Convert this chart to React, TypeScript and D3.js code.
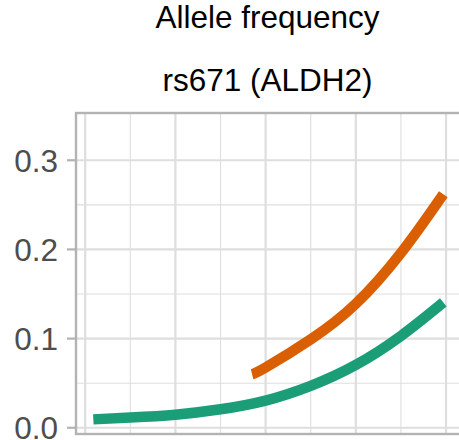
import React, { useEffect, useRef } from "react";
import * as d3 from "d3";

// x positions in arbitrary units (major grid every 1, minor every 0.5)
const greenX = [0.09, 0.5, 1, 1.5, 2, 2.5, 3, 3.5, 3.97];
const greenY = [0.0094, 0.0115, 0.0147, 0.0207, 0.0305, 0.047, 0.0705, 0.103, 0.1406];
const orangeX = [1.85, 2, 2.5, 3, 3.5, 3.97];
const orangeY = [0.06, 0.0675, 0.099, 0.139, 0.196, 0.262];

const yTicks = [0.0, 0.1, 0.2, 0.3];
const yMinor = [0.05, 0.15, 0.25];
const xMajor = [0, 1, 2, 3, 4];
const xMinor = [0.5, 1.5, 2.5, 3.5];

const seriesColors = ["#1B9E77", "#D95F02"];
const titleLines = ["Allele frequency", "rs671 (ALDH2)"];

export default function App() {
  const ref = useRef<SVGSVGElement | null>(null);

  useEffect(() => {
    const width = 459;
    const height = 440;
    const panel = { left: 76, right: 461, top: 113, bottom: 434 };

    const svg = d3.select(ref.current);
    svg.selectAll("*").remove();

    const x = d3.scaleLinear().domain([-0.102, 4.166]).range([panel.left, panel.right]);
    const y = d3.scaleLinear().domain([-0.007, 0.353]).range([panel.bottom, panel.top]);

    svg.attr("width", width).attr("height", height);

    const font = "'Liberation Sans', Arial, sans-serif";

    // titles
    svg
      .selectAll("text.title")
      .data(titleLines)
      .join("text")
      .attr("class", "title")
      .attr("x", (panel.left + panel.right) / 2 - 1)
      .attr("y", (_, i) => 28 + i * 63)
      .attr("text-anchor", "middle")
      .attr("fill", "#000")
      .style("font-family", font)
      .style("font-size", "31.5px")
      .text((d) => d);

    const g = svg.append("g");
    g.append("rect")
      .attr("x", panel.left)
      .attr("y", panel.top)
      .attr("width", panel.right - panel.left)
      .attr("height", panel.bottom - panel.top)
      .attr("fill", "#fff");

    // minor grid
    g.selectAll("line.yminor")
      .data(yMinor)
      .join("line")
      .attr("x1", panel.left)
      .attr("x2", panel.right)
      .attr("y1", (d) => y(d))
      .attr("y2", (d) => y(d))
      .attr("stroke", "#DEDEDE")
      .attr("stroke-width", 1.1);
    g.selectAll("line.xminor")
      .data(xMinor)
      .join("line")
      .attr("y1", panel.top)
      .attr("y2", panel.bottom)
      .attr("x1", (d) => x(d))
      .attr("x2", (d) => x(d))
      .attr("stroke", "#DEDEDE")
      .attr("stroke-width", 1.1);

    // major grid
    g.selectAll("line.ymajor")
      .data(yTicks)
      .join("line")
      .attr("x1", panel.left)
      .attr("x2", panel.right)
      .attr("y1", (d) => y(d))
      .attr("y2", (d) => y(d))
      .attr("stroke", "#DEDEDE")
      .attr("stroke-width", 2.2);
    g.selectAll("line.xmajor")
      .data(xMajor)
      .join("line")
      .attr("y1", panel.top)
      .attr("y2", panel.bottom)
      .attr("x1", (d) => x(d))
      .attr("x2", (d) => x(d))
      .attr("stroke", "#DEDEDE")
      .attr("stroke-width", 2.2);

    // lines
    const line = d3
      .line<[number, number]>()
      .x((d) => x(d[0]))
      .y((d) => y(d[1]))
      .curve(d3.curveNatural);

    const series: [number, number][][] = [
      greenX.map((v, i) => [v, greenY[i]]),
      orangeX.map((v, i) => [v, orangeY[i]]),
    ];

    g.selectAll("path.series")
      .data(series)
      .join("path")
      .attr("class", "series")
      .attr("d", (d) => line(d))
      .attr("fill", "none")
      .attr("stroke", (_, i) => seriesColors[i])
      .attr("stroke-width", 10.5)
      .attr("stroke-linecap", "butt");

    // border
    g.append("rect")
      .attr("x", panel.left)
      .attr("y", panel.top)
      .attr("width", panel.right - panel.left)
      .attr("height", panel.bottom - panel.top)
      .attr("fill", "none")
      .attr("stroke", "#B3B3B3")
      .attr("stroke-width", 2.4);

    // y axis ticks and labels
    const ax = svg.append("g");
    ax.selectAll("line")
      .data(yTicks)
      .join("line")
      .attr("x1", panel.left - 9)
      .attr("x2", panel.left)
      .attr("y1", (d) => y(d))
      .attr("y2", (d) => y(d))
      .attr("stroke", "#B3B3B3")
      .attr("stroke-width", 2.2);
    ax.selectAll("text")
      .data(yTicks)
      .join("text")
      .attr("x", panel.left - 18)
      .attr("y", (d) => y(d) + 11.5)
      .attr("text-anchor", "end")
      .attr("fill", "#4D4D4D")
      .style("font-family", font)
      .style("font-size", "31.5px")
      .text((d) => d3.format(".1f")(d));
  }, []);

  return (
    <svg
      ref={ref}
      style={{ position: "absolute", left: 0, top: 0, background: "#fff" }}
    />
  );
}
